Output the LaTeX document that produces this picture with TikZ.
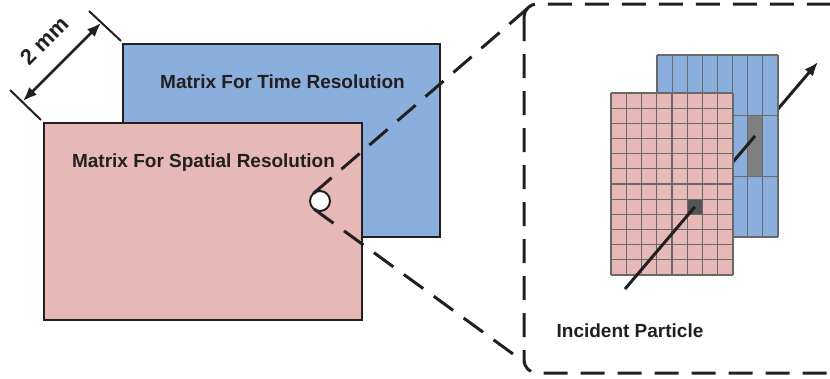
\documentclass[tikz,border=0pt]{standalone}
\usepackage{fontspec}
\setmainfont{Liberation Sans}
\usetikzlibrary{arrows.meta,calc}

\definecolor{timeblue}{RGB}{138,175,220}
\definecolor{spacepink}{RGB}{230,185,182}
\definecolor{ink}{RGB}{35,31,32}
\definecolor{gridgray}{RGB}{105,105,105}

\begin{document}
\begin{tikzpicture}[x=1pt, y=-1pt, >={Latex[length=14pt,width=11pt]},
     every node/.style = {font=\fontsize{19}{23}\selectfont\bfseries,
     text=ink, inner sep=0pt, outer sep=0pt},
     matbox/.style = {draw=ink, line width=2pt, anchor=north west},
     callout/.style = {draw=ink, line width=3pt,
     dash pattern=on 24pt off 13pt},
     gridline/.style = {draw=gridgray, line width=1.1pt},
     hitcell/.style = {anchor=north west, minimum width=#1},
     track/.style = {draw=ink, line width=3pt}]
    \useasboundingbox (0,0) rectangle (830,378);

    % the two matrices
    \node [matbox, fill=timeblue, minimum width=317pt, minimum height=193pt]
        at (123,44) (timemat) {};
    \node [matbox, fill=spacepink, minimum width=318pt, minimum height=197pt]
        at (44,123) (spacemat) {};
    \node [anchor=base] at (282.5,88) (timelbl) {Matrix For Time Resolution};
    \node [anchor=base] at (203.5,167) (spacelbl) {Matrix For Spatial Resolution};

    % thickness
    \coordinate (ext1a) at (10,90);
    \coordinate (ext1b) at (41,120);
    \coordinate (ext2a) at (89,11);
    \coordinate (ext2b) at (121,41);
    \coordinate (dimlo) at (23,101);
    \coordinate (dimhi) at (101,23);
    \draw [ink, line width=2pt] (ext1a) -- (ext1b);
    \draw [ink, line width=2pt] (ext2a) -- (ext2b);
    \draw [ink, line width=2.5pt, <->] (dimlo) -- (dimhi);
    \node [rotate=45, font=\fontsize{22}{26}\selectfont\bfseries]
        at (44.5,41) (thicklbl) {2 mm};

    % zoomed spot
    \node [circle, draw=ink, fill=white, line width=2pt, minimum size=20pt]
        at (320,201) (spot) {};
    \coordinate (ctop) at (528,8);
    \coordinate (cbot) at (524,362);
    \begin{scope}
        \clip (0,0) rectangle (830,378);
        \draw [callout, rounded corners=13pt] (524,4) rectangle (860,373);
    \end{scope}
    \draw [callout] (tangent cs:node=spot,point={(ctop)},solution=1) -- (ctop);
    \draw [callout] (tangent cs:node=spot,point={(cbot)},solution=2) -- (cbot);

    % particle track
    \coordinate (src) at (625,289);
    \coordinate (hitblue) at (755,136);
    \coordinate (tip) at (818,62);
    \draw [track, ->] (hitblue) -- (tip);

    % time layer: 8 x 3 strips
    \fill [timeblue] (657,55) rectangle (778,237);
    \node [hitcell=15.125pt, minimum height=60.67pt, fill=gray]
        at (657+6*15.125,55+60.67) (bluecell) {};
    \foreach \i in {0,...,8}
        \draw [gridline] (657+\i*15.125,55) -- ++(0,182);
    \foreach \j in {0,...,3}
        \draw [gridline] (657,55+\j*60.67) -- ++(121,0);

    % spatial layer: 8 x 12 pixels
    \node [hitcell=15.25pt, minimum height=15.17pt, fill=black!67]
        at (611+5*15.25,93+7*15.17) (pinkcell) {};
    \draw [track] (pinkcell.center) -- (hitblue);
    \fill [spacepink] (611,93) rectangle (733,275);
    \node [hitcell=15.25pt, minimum height=15.17pt, fill=black!67]
        at (611+5*15.25,93+7*15.17) (pinkcell) {};
    \foreach \i in {0,...,8}
        \draw [gridline] (611+\i*15.25,93) -- ++(0,182);
    \foreach \j in {0,...,12}
        \draw [gridline] (611,93+\j*15.17) -- ++(122,0);
    \draw [track] (src) -- (pinkcell.center);
    \node [anchor=base] at (630,337) (partlbl) {Incident Particle};
\end{tikzpicture}
\end{document}
